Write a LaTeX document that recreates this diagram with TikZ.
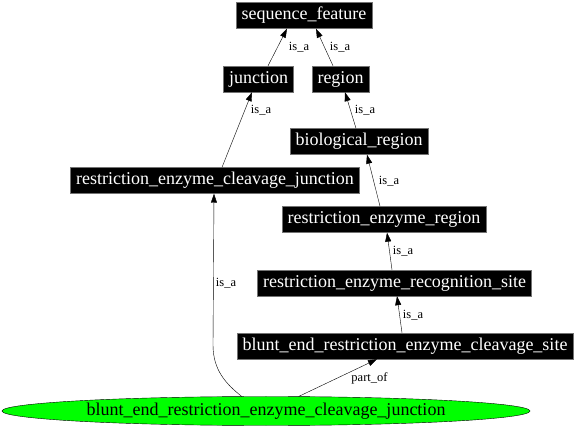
\documentclass[tikz,border=0pt]{standalone}
\usepackage{fontspec}
\setmainfont{Liberation Serif}
\usetikzlibrary{shapes.geometric}
\usetikzlibrary{arrows.meta}

\begin{document}
\begin{tikzpicture}[x=1pt, y=-1pt,
        term/.style={rectangle, draw=black!55, fill=black, text=white, inner xsep=5.5pt, inner ysep=0pt, minimum height=26pt, font=\fontsize{18}{20}\selectfont},
        focus/.style={ellipse, draw=black, fill=green, inner sep=0pt, minimum width=528pt, minimum height=29pt, font=\fontsize{18}{20}\selectfont},
        rel/.style={black, -{Triangle[length=9pt, width=6pt]}},
        lbl/.style={inner sep=0pt, font=\fontsize{12.5}{14}\selectfont}
      ]
        \useasboundingbox (0,0) rectangle (576,430);

        \node[term]  (seqf)      at (304, 15.5)   {sequence\_feature};
        \node[term]  (junction)  at (258.5, 79)   {junction};
        \node[term]  (region)    at (340.5, 79)   {region};
        \node[term]  (bioreg)    at (359, 141.5)  {biological\_region};
        \node[term]  (rejunc)    at (215, 180.5)  {restriction\_enzyme\_cleavage\_junction};
        \node[term]  (rereg)     at (384, 219.5)  {restriction\_enzyme\_region};
        \node[term]  (recog)     at (394.5, 283)  {restriction\_enzyme\_recognition\_site};
        \node[term]  (bluntsite) at (405, 346)    {blunt\_end\_restriction\_enzyme\_cleavage\_site};
        \node[focus] (bluntj)    at (266, 411)    {blunt\_end\_restriction\_enzyme\_cleavage\_junction};

        \draw[rel] ([xshift=9.5pt]junction.north) -- ([xshift=-17pt]seqf.south);
        \draw[rel] ([xshift=-7.5pt]region.north) -- ([xshift=12pt]seqf.south);
        \draw[rel] ([xshift=7pt]rejunc.north) -- ([xshift=-6.5pt]junction.south);
        \draw[rel] ([xshift=-3pt]bioreg.north) -- ([xshift=4.5pt]region.south);
        \draw[rel] ([xshift=-4pt]rereg.north) -- ([xshift=8pt]bioreg.south);
        \draw[rel] ([xshift=-2.5pt]recog.north) -- ([xshift=3pt]rereg.south);
        \draw[rel] ([xshift=-3pt]bluntsite.north) -- ([xshift=2.5pt]recog.south);
        \draw[rel] (bluntj.24) -- ([xshift=-28pt]bluntsite.south);
        \draw[rel] (bluntj.149) .. controls (226,384) and (213,370) .. (213,345) -- ([xshift=-1pt]rejunc.south);

        \node[lbl] (l1) at (299, 47)    {is\_a};
        \node[lbl] (l2) at (340, 47)    {is\_a};
        \node[lbl] (l3) at (261, 110)   {is\_a};
        \node[lbl] (l4) at (365, 110)   {is\_a};
        \node[lbl] (l5) at (389, 181)   {is\_a};
        \node[lbl] (l6) at (403, 251)   {is\_a};
        \node[lbl] (l7) at (413, 315)   {is\_a};
        \node[lbl] (l8) at (226, 283)   {is\_a};
        \node[lbl] (l9) at (369.5, 378) {part\_of};
      \end{tikzpicture}
\end{document}
